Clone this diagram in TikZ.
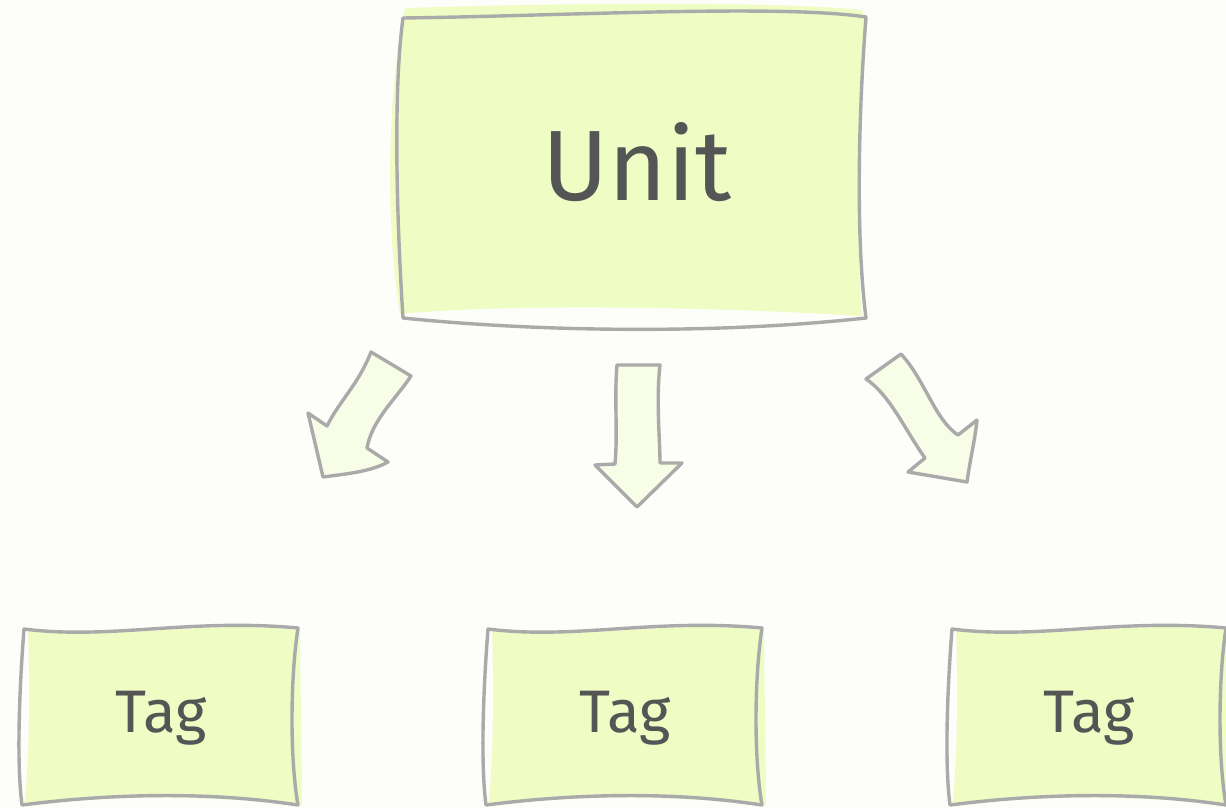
\documentclass[tikz,border=0pt]{standalone}
\usepackage{fontspec}
\setmainfont{Fira Sans}
\definecolor{bg}{HTML}{FDFEF9}
\definecolor{boxfill}{HTML}{EFFCC4}
\definecolor{arrowfill}{HTML}{F7FDE6}
\definecolor{edge}{HTML}{AAAAAA}
\definecolor{ink}{HTML}{555555}
\tikzset{
  sketch/.style={draw=edge, line width=3.4pt, line join=round, line cap=round},
  boxfillstyle/.style={fill=boxfill},
  arrowstyle/.style={sketch, fill=arrowfill},
  unitlabel/.style={text=ink, font=\fontsize{100}{104}\selectfont, inner sep=0pt},
  taglabel/.style={text=ink, font=\fontsize{60}{64}\selectfont, inner sep=0pt},
}
\begin{document}
\begin{tikzpicture}[x=1pt,y=-1pt]
\fill[bg] (0,0) rectangle (1226,808);
\useasboundingbox (0,0) rectangle (1226,808);
% Unit box
\fill[boxfillstyle] (405,8) .. controls (600,2) and (780,2) .. (862,10) -- (866,30)
  .. controls (858,150) and (856,250) .. (862,316) .. controls (700,306) and (500,304) .. (400,314)
  .. controls (386,230) and (386,100) .. (405,8) -- cycle;
\draw[sketch] (403,18) .. controls (560,16) and (780,4) .. (866,17)
  .. controls (858,120) and (856,240) .. (866,318)
  .. controls (700,336) and (520,330) .. (403,318)
  .. controls (398,240) and (392,100) .. (403,18) -- cycle;
\node[unitlabel] (unit) at (637,162) {Unit};
% Tag boxes
\foreach \dx in {0, 464, 928} {
  \begin{scope}[xshift=\dx]
  \fill[boxfillstyle] (28,631) .. controls (120,640) and (200,620) .. (300,630)
    -- (302,805) .. controls (200,795) and (100,795) .. (24,806)
    .. controls (30,760) and (30,680) .. (28,631) -- cycle;
  \draw[sketch] (24,629) .. controls (110,640) and (190,618) .. (298,628)
    .. controls (290,680) and (290,760) .. (298,805)
    .. controls (200,790) and (100,795) .. (22,805)
    .. controls (16,760) and (20,680) .. (24,629) -- cycle;
  \end{scope}
}
\node[taglabel] (tagA) at (161,718) {Tag};
\node[taglabel] (tagB) at (625,718) {Tag};
\node[taglabel] (tagC) at (1089,718) {Tag};
% Block arrows
\draw[arrowstyle] (371,352) -- (411,376)
  .. controls (395,400) and (372,420) .. (367,448)
  -- (388,462) .. controls (370,472) and (345,474) .. (323,477)
  -- (308,413) -- (327,426)
  .. controls (340,400) and (358,385) .. (371,352) -- cycle;
\draw[arrowstyle] (617,365) -- (660,365)
  .. controls (656,400) and (660,440) .. (660,463)
  -- (682,463) -- (637,507) -- (595,465) -- (615,464)
  .. controls (618,430) and (614,400) .. (617,365) -- cycle;
\draw[arrowstyle] (866,379) -- (901,354)
  .. controls (925,380) and (935,420) .. (958,435)
  -- (977,420) .. controls (975,440) and (970,460) .. (967,482)
  -- (908,472) -- (925,458)
  .. controls (905,430) and (890,395) .. (866,379) -- cycle;
\end{tikzpicture}
\end{document}
